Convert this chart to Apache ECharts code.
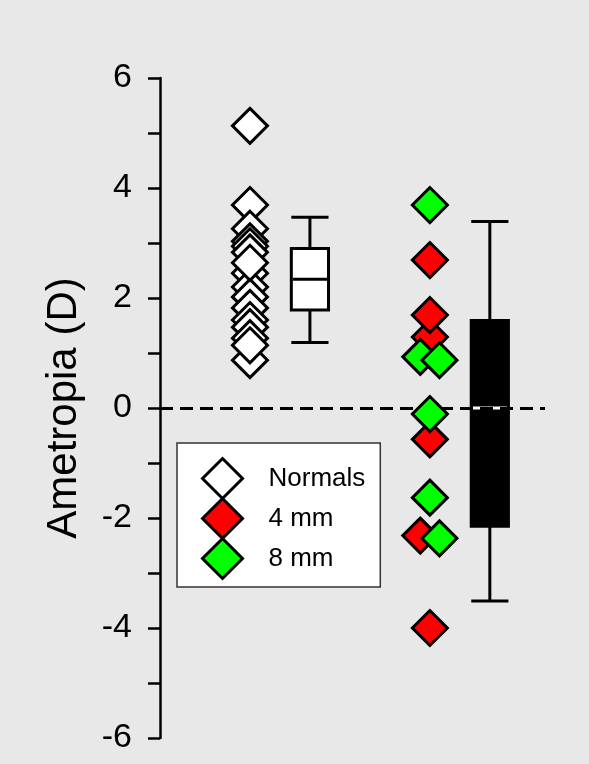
<!DOCTYPE html>
<html>
<head>
<meta charset="utf-8">
<script src="https://cdn.jsdelivr.net/npm/echarts@6/dist/echarts.min.js"></script>
<style>
  html, body { margin: 0; padding: 0; background: #e8e8e8; }
  #chart { width: 589px; height: 764px; }
</style>
</head>
<body>
<div id="chart"></div>
<script>
// Refraction (D) per eye: normal eyes and eyes with 4 mm / 8 mm lesions
const normals = [5.13, 3.69, 3.26, 3.03, 2.94, 2.83, 2.45, 2.20, 2.02, 1.82, 1.60, 1.47, 1.27, 0.87, 2.64, 1.14];
const fourMm = [2.69, 1.29, 1.69, -0.57, -2.32, -4.00];
const eightMm = [3.69, 0.93, 0.87, -0.11, -1.63, -2.37];
// side-by-side offsets (x units) for points that would otherwise coincide
const fourMmJitter = [0, 0, 0, 0, -0.16, 0];
const eightMmJitter = [0, -0.16, 0.16, 0, 0, 0.16];

// box summaries: [lower whisker, Q1, median, Q3, upper whisker]
const normalsBox = [1.19, 1.78, 2.34, 2.90, 3.47];
const lesionBox = [-3.51, -2.15, 0.00, 1.59, 3.39];

// column positions along the hidden x axis
const xNormals = 1.5, xNormalsBox = 2.5, xLesion = 4.5, xLesionBox = 5.5, xEnd = 6.42;

const yMin = -6, yMax = 6, yStep = 2;
const seriesNames = ['Normals', '4 mm', '8 mm'];
const seriesColors = ['#ffffff', '#ff0000', '#00ff00'];

const BOX_W = 0.62;
const LW = 3;
const FONT = '"Liberation Sans", Arial, Helvetica, sans-serif';

function boxItem(x, b) { return [x].concat(b); }

function makeBoxRenderer(fill, medianColor) {
  return function (params, api) {
    const x = api.value(0);
    const lo = api.coord([x, api.value(1)]);
    const q1 = api.coord([x, api.value(2)]);
    const md = api.coord([x, api.value(3)]);
    const q3 = api.coord([x, api.value(4)]);
    const hi = api.coord([x, api.value(5)]);
    const hw = api.size([BOX_W, 0])[0] / 2;
    const cx = lo[0];
    const stroke = { stroke: '#000', lineWidth: LW };
    return {
      type: 'group',
      children: [
        { type: 'line', shape: { x1: cx, y1: hi[1], x2: cx, y2: q3[1] }, style: stroke },
        { type: 'line', shape: { x1: cx, y1: q1[1], x2: cx, y2: lo[1] }, style: stroke },
        { type: 'line', shape: { x1: cx - hw, y1: hi[1], x2: cx + hw, y2: hi[1] }, style: stroke },
        { type: 'line', shape: { x1: cx - hw, y1: lo[1], x2: cx + hw, y2: lo[1] }, style: stroke },
        { type: 'rect', shape: { x: cx - hw, y: q3[1], width: 2 * hw, height: q1[1] - q3[1] },
          style: { fill: fill, stroke: '#000', lineWidth: LW } },
        { type: 'line', shape: { x1: cx - hw + 1.5, y1: md[1], x2: cx + hw - 1.5, y2: md[1] },
          style: { stroke: medianColor, lineWidth: LW } }
      ]
    };
  };
}

function diamondStyle(color) {
  return { color: color, borderColor: '#000', borderWidth: LW, opacity: 1 };
}

const chart = echarts.init(document.getElementById('chart'), null, { renderer: 'canvas' });

chart.setOption({
  backgroundColor: '#e8e8e8',
  animation: false,
  textStyle: { fontFamily: FONT },
  grid: { left: 160, right: 44, top: 78, bottom: 26 },
  xAxis: { type: 'value', min: 0, max: xEnd, show: false },
  yAxis: {
    type: 'value',
    min: yMin, max: yMax, interval: yStep,
    name: 'Ametropia (D)',
    nameLocation: 'middle',
    nameRotate: 90,
    nameGap: 75,
    nameTextStyle: { fontSize: 42, color: '#000', fontFamily: FONT },
    axisLine: { show: true, lineStyle: { color: '#000', width: 2.5 } },
    axisTick: { show: true, length: 12, lineStyle: { color: '#000', width: 2.5 } },
    minorTick: { show: true, splitNumber: 2, length: 12, lineStyle: { color: '#000', width: 2.5 } },
    splitLine: { show: false },
    axisLabel: { fontSize: 34, color: '#000', margin: 28, fontFamily: FONT }
  },
  legend: {
    orient: 'vertical',
    left: 177, top: 443,
    data: seriesNames.map((n, i) => ({
      name: n,
      icon: 'diamond',
      itemStyle: { color: seriesColors[i], borderColor: '#000', borderWidth: LW }
    })),
    itemWidth: 40, itemHeight: 40, itemGap: -3,
    padding: [14, 15, 7, 24],
    backgroundColor: '#fff',
    borderColor: '#333', borderWidth: 1.5,
    textStyle: { fontSize: 26, color: '#000', fontFamily: FONT, padding: [0, 0, 0, 21] },
    selectedMode: false
  },
  series: [
    {
      type: 'line', data: [], z: 1, silent: true,
      markLine: {
        silent: true, symbol: 'none', label: { show: false }, animation: false,
        lineStyle: { color: '#000', width: 3, type: [13, 7] },
        data: [{ yAxis: 0 }]
      }
    },
    {
      type: 'custom', z: 3,
      renderItem: makeBoxRenderer('#fff', '#000'),
      data: [boxItem(xNormalsBox, normalsBox)]
    },
    {
      type: 'custom', z: 3,
      renderItem: makeBoxRenderer('#000', '#fff'),
      data: [boxItem(xLesionBox, lesionBox)]
    },
    {
      name: seriesNames[0], type: 'scatter', z: 4,
      symbol: 'diamond', symbolSize: 35,
      itemStyle: diamondStyle(seriesColors[0]),
      data: normals.map(v => [xNormals, v])
    },
    {
      name: seriesNames[1], type: 'scatter', z: 4,
      symbol: 'diamond', symbolSize: 35,
      itemStyle: diamondStyle(seriesColors[1]),
      data: fourMm.map((v, i) => [xLesion + fourMmJitter[i], v])
    },
    {
      name: seriesNames[2], type: 'scatter', z: 5,
      symbol: 'diamond', symbolSize: 35,
      itemStyle: diamondStyle(seriesColors[2]),
      data: eightMm.map((v, i) => [xLesion + eightMmJitter[i], v])
    }
  ]
});
</script>
</body>
</html>
